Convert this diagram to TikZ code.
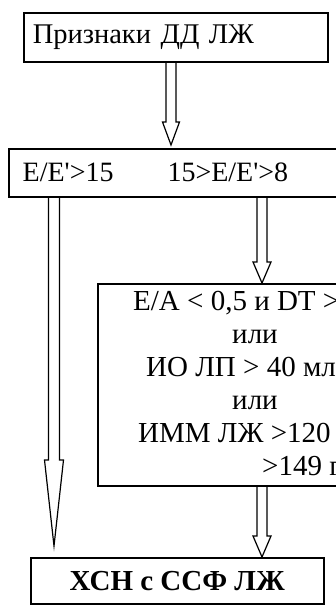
\documentclass[tikz,border=0pt]{standalone}
\usepackage{fontspec}
\setmainfont{Liberation Serif}
\usetikzlibrary{calc}
\tikzset{
  box/.style={draw, line width=1.5pt, rectangle, inner sep=0pt, anchor=north west, font=\fontsize{28}{30}\selectfont},
  arr/.style={draw, line width=1.2pt, line join=miter},
  txt/.style={font=\fontsize{29}{30}\selectfont, inner sep=0pt, anchor=base west}
}
\newcommand{\hollowarrow}[5]{%
  \draw[arr] let \p1=(#1), \p2=(#2) in
    (\x1-#3,\y1) -- (\x1-#3,\y2+#5) -- (\x1-#4,\y2+#5) -- (\x1,\y2)
    -- (\x1+#4,\y2+#5) -- (\x1+#3,\y2+#5) -- (\x1+#3,\y1);}
\begin{document}
\begin{tikzpicture}[x=1pt,y=-1pt]
\useasboundingbox (0,0) rectangle (336,605);
\fill[white] (0,0) rectangle (336,605);
\clip (0,0) rectangle (336,605);
% boxes
\node[box, minimum width=295pt, minimum height=49pt, text width=286pt, inner xsep=9pt, align=left, font=\fontsize{28.5}{30}\selectfont] (top) at (23,12) {Признаки ДД ЛЖ};
\node[box, minimum width=400pt, minimum height=48pt, text width=386pt, inner xsep=14pt, align=left] (second) at (8,148) {E/E\textquotesingle>15\hspace{54pt}15>E/E\textquotesingle>8};
\node[box, minimum width=300pt, minimum height=202pt] (mid) at (97,283) {};
\node[txt] (l1) at (133,310) {E/A < 0,5 и DT >};
\node[txt, anchor=base] (l2) at (255,343) {или};
\node[txt] (l3) at (146,376) {ИО ЛП > 40 мл};
\node[txt, anchor=base] (l4) at (255,409) {или};
\node[txt] (l5) at (138,442) {ИММ ЛЖ >120 г};
\node[txt] (l6) at (262,475) {>149 г};
\node[box, minimum width=293pt, minimum height=46pt, font=\fontsize{29}{30}\selectfont\bfseries] (bot) at (30,557) {ХСН с ССФ ЛЖ};
% connector anchors
\coordinate (xa) at (171,0);
\coordinate (xl) at (54,0);
\coordinate (xr) at (262,0);
\coordinate (aend) at ($(second.north -| xa)+(0,-3)$);
\coordinate (lend) at ($(bot.north -| xl)+(0,-11)$);
% arrows
\hollowarrow{top.south -| xa}{aend}{5pt}{8.5pt}{23pt}
\hollowarrow{second.south -| xl}{lend}{5.5pt}{9.5pt}{86pt}
\hollowarrow{second.south -| xr}{mid.north -| xr}{5pt}{9pt}{21pt}
\hollowarrow{mid.south -| xr}{bot.north -| xr}{5pt}{9pt}{21pt}
\end{tikzpicture}
\end{document}
